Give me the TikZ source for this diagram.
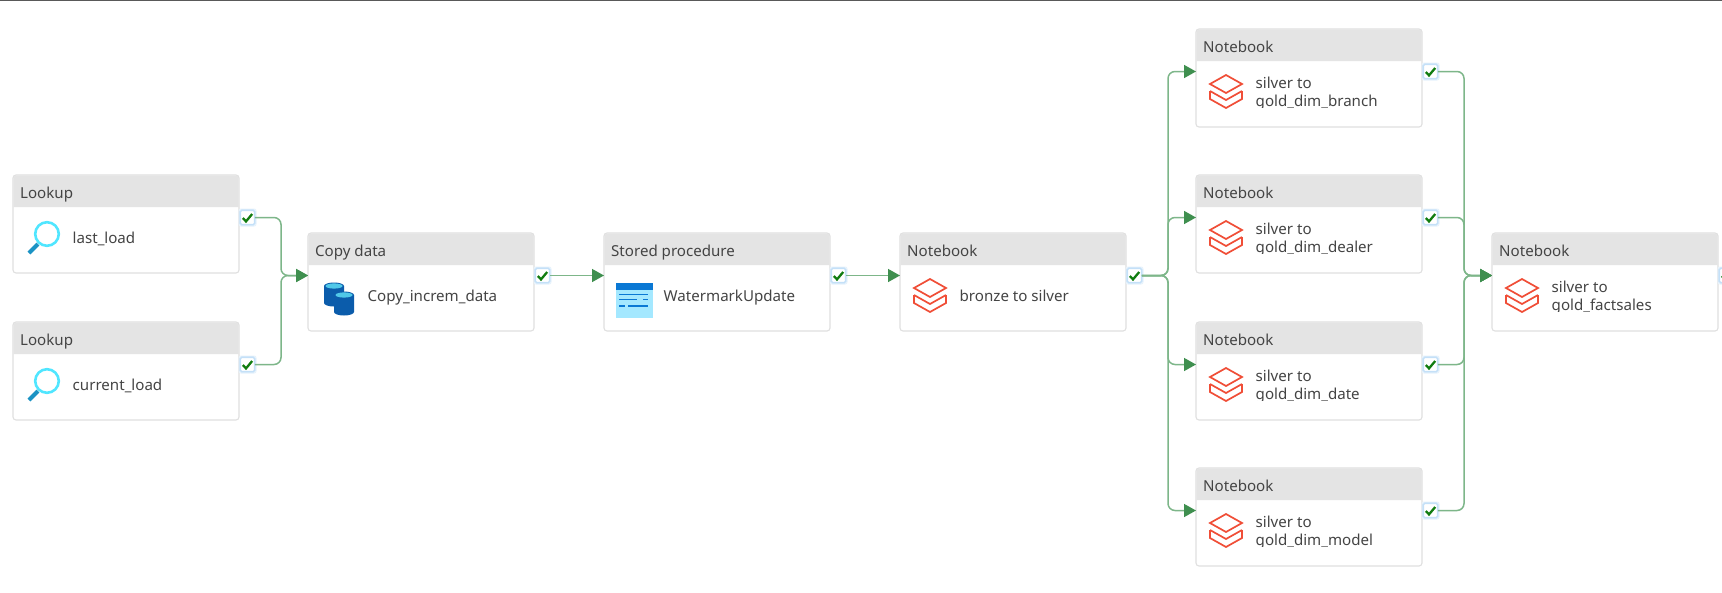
\documentclass[tikz,border=0pt]{standalone}
\usepackage{fontspec}
\setmainfont{Noto Sans}
\usetikzlibrary{arrows.meta}
\definecolor{boxline}{HTML}{E0E0E0}
\definecolor{headfill}{HTML}{E4E4E4}
\definecolor{txt}{HTML}{444444}
\definecolor{linkgreen}{HTML}{7DB689}
\definecolor{tipgreen}{HTML}{3F8F4F}
\definecolor{checkgreen}{HTML}{107C10}
\definecolor{chkline}{HTML}{C4E0F8}
\definecolor{chkglow}{HTML}{E6F2FC}
\definecolor{lens}{HTML}{50E6FF}
\definecolor{handle}{HTML}{1B93C4}
\definecolor{dbblue}{HTML}{0B5CAB}
\definecolor{dbtop}{HTML}{50C8E8}
\definecolor{procbg}{HTML}{A4E8FF}
\definecolor{procbar}{HTML}{0A78D4}
\definecolor{brick}{HTML}{F04E37}
\tikzset{
  x=1pt,y=-1pt,
  actbox/.style={draw=boxline,line width=1.1pt,fill=white,rounded corners=3pt,
    minimum width=226pt,minimum height=98pt,inner sep=0pt,outer sep=0pt,anchor=north west},
  chkbox/.style={draw=chkline,line width=1.6pt,fill=white,rounded corners=1.5pt,
    minimum width=14.5pt,minimum height=14.5pt,inner sep=0pt,outer sep=0pt},
  lbl/.style={anchor=base west,inner sep=0pt,text=txt,font=\fontsize{15.1}{16}\selectfont},
  conn/.style={draw=linkgreen,line width=1.5pt,rounded corners=7pt,
    -{Triangle[length=12pt,width=13pt,color=tipgreen]}},
  tick/.style={draw=checkgreen,line width=2.3pt},
  brickline/.style={draw=brick,line width=1.7pt,line join=miter}
}
\newcommand{\iconlens}{%
  \draw[lens,line width=2.6pt] (34,59) circle (11.8);
  \draw[handle,line width=4pt] (25,69) -- (16,78);
}
\newcommand{\iconcyl}[2]{%
  \fill[dbblue] (#1,#2) -- (#1,#2+17) arc[start angle=180,end angle=0,x radius=10,y radius=3.5]
     -- (#1+20,#2) arc[start angle=0,end angle=-180,x radius=10,y radius=3.5] -- cycle;
  \fill[dbtop] (#1+10,#2) ellipse (8.5 and 2.6);
}
\newcommand{\iconcopy}{\iconcyl{16}{53}\iconcyl{26}{62}}
\newcommand{\iconproc}{%
  \fill[procbg] (12,50) rectangle (49,85);
  \fill[procbar] (12,50) rectangle (49,57);
  \begin{scope}[draw=procbar,line width=1.7pt]
    \draw (15,61.5) -- (44,61.5);
    \draw (15,66.5) -- (33,66.5);
    \draw (39,66.5) -- (44,66.5);
    \draw (15,73) -- (21,73);
    \draw (24,73) -- (44,73);
  \end{scope}
}
\newcommand{\iconbrick}{%
  \draw[brickline] (30,46) -- (46,55) -- (30,64) -- (14,55) -- cycle;
  \draw[brickline] (14,62) -- (30,71) -- (46,62);
  \draw[brickline] (14,62) -- (14,70) -- (30,79) -- (46,70) -- (46,62);
}
% name, x, y, header, icon, body
\newcommand{\activity}[6]{%
  \begin{scope}[shift={(#2,#3)}]
    \node[actbox] (#1) at (0,0) {};
    \fill[headfill] (0.6,32) -- (0.6,3) arc[start angle=180,end angle=270,radius=2.5] -- (223,0.5)
       arc[start angle=270,end angle=360,radius=2.5] -- (225.5,32) -- cycle;
    \node[lbl] (#1-head) at (7,23) {#4};
    #5
    #6
    \coordinate (#1-in) at (0,42.5);
    \node[draw=chkglow,line width=1pt,minimum width=17pt,minimum height=17pt,inner sep=0pt,rounded corners=2pt] (#1-halo) at (234.5,42.5) {};
    \node[chkbox] (#1-chk) at (234.5,42.5) {};
    \draw[tick] (229.8,43) -- (233,46.4) -- (239.2,39);
  \end{scope}%
}
\newcommand{\oneline}[2]{\node[lbl] (#1-text) at (59.5,68) {#2};}
\newcommand{\twoline}[3]{%
  \node[lbl] (#1-text) at (59.5,59) {#2};
  \begin{scope}
    \clip (50,62) rectangle (225,78.5);
    \node[lbl] (#1-more) at (59.5,77) {#3};
  \end{scope}%
}
\begin{document}
\begin{tikzpicture}
\useasboundingbox (0,0) rectangle (1722,592);
\clip (0,0) rectangle (1722,592);
\fill[white] (0,0) rectangle (1722,592);
\coordinate (edgeL) at (0,0.7);
\coordinate (edgeR) at (1722,0.7);
\draw[black!65,line width=1.4pt] (edgeL) -- (edgeR);

\activity{lookA}{13}{175}{Lookup}{\iconlens}{\oneline{lookA}{last\_load}}
\activity{lookB}{13}{322}{Lookup}{\iconlens}{\oneline{lookB}{current\_load}}
\activity{copy}{308}{233}{Copy data}{\iconcopy}{\oneline{copy}{Copy\_increm\_data}}
\activity{proc}{604}{233}{Stored procedure}{\iconproc}{\oneline{proc}{WatermarkUpdate}}
\activity{bronze}{900}{233}{Notebook}{\iconbrick}{\oneline{bronze}{bronze to silver}}
\activity{nbA}{1196}{29}{Notebook}{\iconbrick}{\twoline{nbA}{silver to}{gold\_dim\_branch}}
\activity{nbB}{1196}{175}{Notebook}{\iconbrick}{\twoline{nbB}{silver to}{gold\_dim\_dealer}}
\activity{nbC}{1196}{322}{Notebook}{\iconbrick}{\twoline{nbC}{silver to}{gold\_dim\_date}}
\activity{nbD}{1196}{468}{Notebook}{\iconbrick}{\twoline{nbD}{silver to}{gold\_dim\_model}}
\activity{fact}{1492}{233}{Notebook}{\iconbrick}{\twoline{fact}{silver to}{gold\_factsales}}

\coordinate (joinA) at (281,275.5);
\coordinate (joinB) at (1168,275.5);
\coordinate (joinC) at (1464,275.5);

\draw[conn] (lookA-chk.east) -| (joinA) -- (copy-in);
\draw[conn] (lookB-chk.east) -| (joinA) -- (copy-in);
\draw[conn] (copy-chk.east) -- (proc-in);
\draw[conn] (proc-chk.east) -- (bronze-in);
\draw[conn] (bronze-chk.east) -- (joinB) |- (nbA-in);
\draw[conn] (bronze-chk.east) -- (joinB) |- (nbB-in);
\draw[conn] (bronze-chk.east) -- (joinB) |- (nbC-in);
\draw[conn] (bronze-chk.east) -- (joinB) |- (nbD-in);
\draw[conn] (nbA-chk.east) -| (joinC) -- (fact-in);
\draw[conn] (nbB-chk.east) -| (joinC) -- (fact-in);
\draw[conn] (nbC-chk.east) -| (joinC) -- (fact-in);
\draw[conn] (nbD-chk.east) -| (joinC) -- (fact-in);
\end{tikzpicture}
\end{document}
